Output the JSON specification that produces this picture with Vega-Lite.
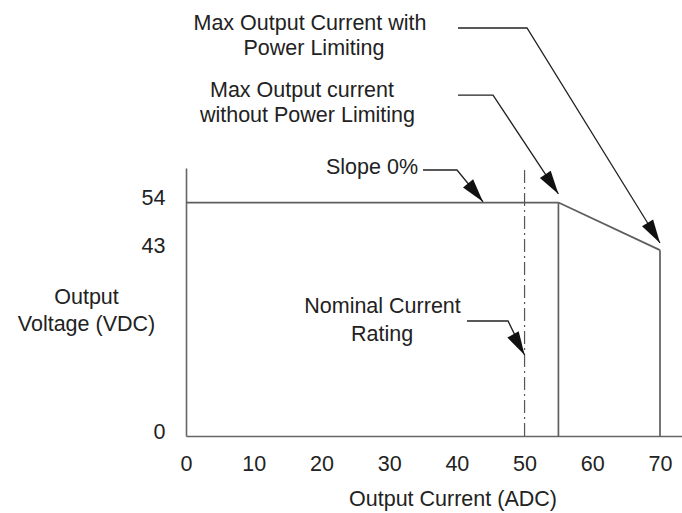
{
  "$schema": "https://vega.github.io/schema/vega-lite/v6.json",
  "autosize": {"type": "none"},
  "padding": {"left": 186, "top": 168, "right": 0, "bottom": 77},
  "width": 496,
  "height": 268,
  "background": "white",
  "config": {"view": {"stroke": null}, "font": "Liberation Sans"},
  "datasets": {
    "outline": [
      {"seg": "top", "ord": 1, "x": 0, "y": 54},
      {"seg": "top", "ord": 2, "x": 55, "y": 54},
      {"seg": "max", "ord": 1, "x": 55, "y": 54},
      {"seg": "max", "ord": 2, "x": 55, "y": 0},
      {"seg": "slope", "ord": 1, "x": 55, "y": 54},
      {"seg": "slope", "ord": 2, "x": 70, "y": 43},
      {"seg": "limit", "ord": 1, "x": 70, "y": 43},
      {"seg": "limit", "ord": 2, "x": 70, "y": 0}
    ],
    "nominal": [{"x": 50, "y": 0, "y2": 62}],
    "leaders": [
      {"id": "with", "ord": 1, "x": 40.17, "y": 94.39},
      {"id": "with", "ord": 2, "x": 50.36, "y": 94.39},
      {"id": "with", "ord": 3, "x": 70.0, "y": 44.65},
      {"id": "without", "ord": 1, "x": 40.17, "y": 78.87},
      {"id": "without", "ord": 2, "x": 45.34, "y": 78.87},
      {"id": "without", "ord": 3, "x": 55.0, "y": 55.99},
      {"id": "slope", "ord": 1, "x": 35.0, "y": 61.54},
      {"id": "slope", "ord": 2, "x": 40.02, "y": 61.54},
      {"id": "slope", "ord": 3, "x": 43.86, "y": 54.2},
      {"id": "nominal", "ord": 1, "x": 41.5, "y": 26.6},
      {"id": "nominal", "ord": 2, "x": 47.56, "y": 26.6},
      {"id": "nominal", "ord": 3, "x": 50.0, "y": 18.74}
    ],
    "tips": [
      {"id": "with", "x": 70.0, "y": 44.65},
      {"id": "without", "x": 55.0, "y": 55.99},
      {"id": "slope", "x": 43.86, "y": 54.2},
      {"id": "nominal", "x": 50.0, "y": 18.74}
    ],
    "labels": [
      {"text": "Max Output Current with", "x": 18.31, "y": 93.93},
      {"text": "Power Limiting", "x": 18.9, "y": 88.14},
      {"text": "Max Output current", "x": 17.13, "y": 78.43},
      {"text": "without Power Limiting", "x": 17.94, "y": 72.64},
      {"text": "Slope 0%", "x": 27.47, "y": 60.61},
      {"text": "Nominal Current", "x": 29.02, "y": 28.46},
      {"text": "Rating", "x": 28.95, "y": 21.98}
    ]
  },
  "encoding": {
    "x": {
      "field": "x",
      "type": "quantitative",
      "scale": {"domain": [0, 73.25], "nice": false, "zero": false},
      "axis": {
        "values": [0, 10, 20, 30, 40, 50, 60, 70],
        "grid": false,
        "ticks": false,
        "tickSize": 0,
        "labelFlush": false,
        "labelOverlap": false,
        "labelPadding": 17,
        "labelFontSize": 21.5,
        "labelColor": "#222",
        "domainColor": "#666666",
        "domainWidth": 1.6,
        "title": "Output Current (ADC)",
        "titleFontSize": 21.5,
        "titleFontWeight": "normal",
        "titleColor": "#222",
        "titleX": 266.5,
        "titleY": 69,
        "titleAlign": "center",
        "titleBaseline": "alphabetic"
      }
    },
    "y": {
      "field": "y",
      "type": "quantitative",
      "scale": {"domain": [0, 62], "nice": false, "zero": false},
      "axis": {
        "values": [0, 43, 54],
        "grid": false,
        "ticks": false,
        "tickSize": 0,
        "labelFlush": false,
        "labelOverlap": false,
        "labelPadding": 21,
        "labelOffset": -4,
        "labelFontSize": 21.5,
        "labelColor": "#222",
        "domainColor": "#666666",
        "domainWidth": 1.6,
        "title": ["Output", "Voltage (VDC)"],
        "titleAngle": 0,
        "titleFontSize": 21.5,
        "titleFontWeight": "normal",
        "titleColor": "#222",
        "titleLineHeight": 27,
        "titleX": -100,
        "titleY": 135,
        "titleAlign": "center",
        "titleBaseline": "alphabetic"
      }
    }
  },
  "layer": [
    {
      "data": {"name": "outline"},
      "mark": {"type": "line", "color": "#5e5e5e", "strokeWidth": 1.7},
      "encoding": {
        "detail": {"field": "seg"},
        "order": {"field": "ord", "type": "quantitative"}
      }
    },
    {
      "data": {"name": "nominal"},
      "mark": {"type": "rule", "color": "#555555", "strokeWidth": 1.2, "strokeDash": [13, 4, 2, 4]},
      "encoding": {"y2": {"field": "y2"}}
    },
    {
      "data": {"name": "leaders"},
      "mark": {"type": "line", "color": "#222222", "strokeWidth": 1.3},
      "encoding": {
        "detail": {"field": "id"},
        "order": {"field": "ord", "type": "quantitative"}
      }
    },
    {
      "data": {"name": "tips"},
      "transform": [{"filter": "datum.id === 'with'"}],
      "mark": {"type": "point", "shape": "M0,0L-0.55,2L0.55,2Z", "filled": true, "color": "#111111", "opacity": 1, "size": 560, "angle": 148.3}
    },
    {
      "data": {"name": "tips"},
      "transform": [{"filter": "datum.id === 'without'"}],
      "mark": {"type": "point", "shape": "M0,0L-0.55,2L0.55,2Z", "filled": true, "color": "#111111", "opacity": 1, "size": 560, "angle": 146.3}
    },
    {
      "data": {"name": "tips"},
      "transform": [{"filter": "datum.id === 'slope'"}],
      "mark": {"type": "point", "shape": "M0,0L-0.55,2L0.55,2Z", "filled": true, "color": "#111111", "opacity": 1, "size": 560, "angle": 140.9}
    },
    {
      "data": {"name": "tips"},
      "transform": [{"filter": "datum.id === 'nominal'"}],
      "mark": {"type": "point", "shape": "M0,0L-0.55,2L0.55,2Z", "filled": true, "color": "#111111", "opacity": 1, "size": 560, "angle": 150.8}
    },
    {
      "data": {"name": "labels"},
      "mark": {"type": "text", "fontSize": 21.5, "font": "Liberation Sans", "align": "center", "baseline": "alphabetic", "color": "#222222"},
      "encoding": {"text": {"field": "text"}}
    }
  ]
}
